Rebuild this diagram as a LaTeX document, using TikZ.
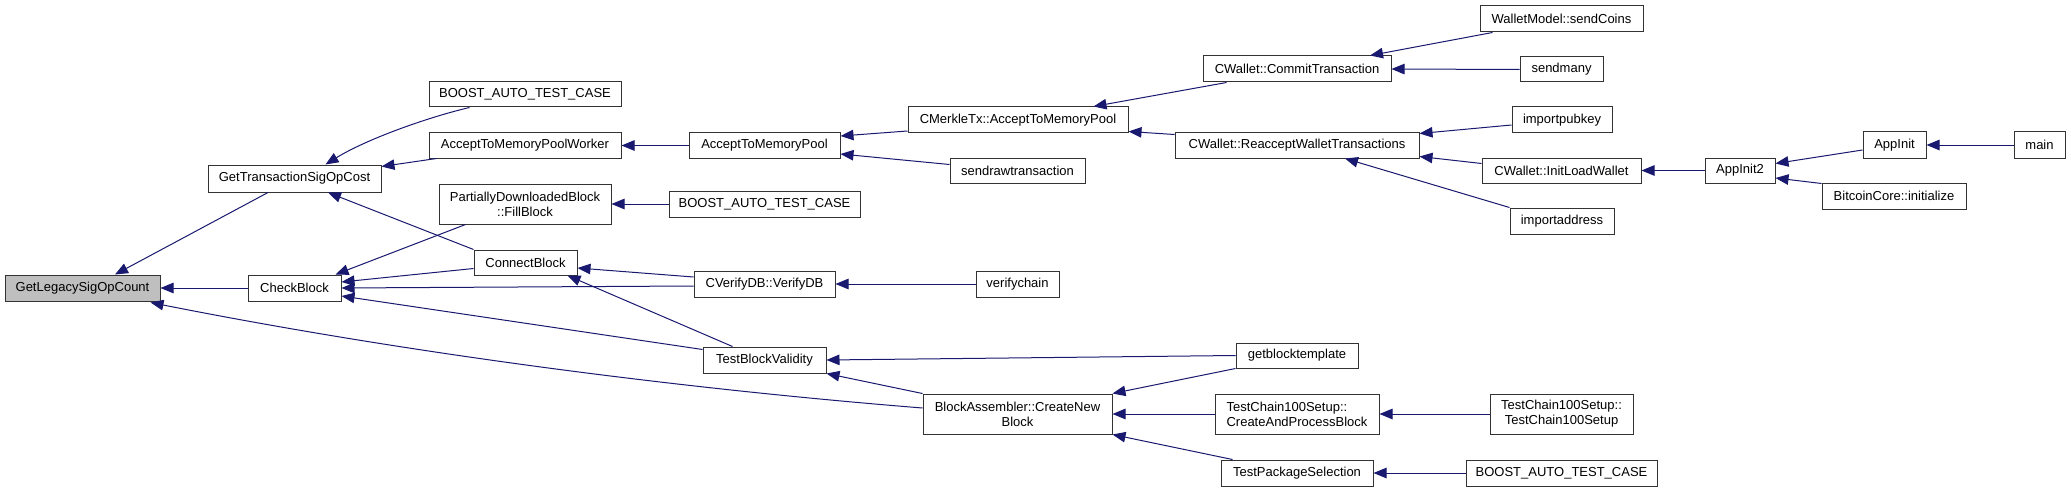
\documentclass[tikz,border=0pt]{standalone}
\usepackage{fontspec}
\setmainfont{Liberation Sans}
\usetikzlibrary{arrows.meta}
\definecolor{edgeblue}{HTML}{191970}
\definecolor{boxline}{HTML}{333333}
\definecolor{hilite}{HTML}{BFBFBF}
\tikzset{
  fn/.style={draw=boxline, line width=1pt, fill=white, inner sep=0pt,
    font=\fontsize{13pt}{15pt}\selectfont, align=center, minimum height=26pt},
  two/.style={minimum height=40pt},
  edge/.style={draw=edgeblue, line width=1pt, -{Triangle[length=13pt,width=10.5pt]}}
}
\begin{document}
\begin{tikzpicture}[x=1pt,y=-1pt]
\useasboundingbox[fill=white] (0,0) rectangle (2071,492);
% nodes
\node[fn, fill=hilite, minimum width=155pt] (gl) at (82.5,288) {GetLegacySigOpCount};
\node[fn, minimum width=173pt, minimum height=27pt] (gt) at (294.5,178.5) {GetTransactionSigOpCost};
\node[fn, minimum width=93pt] (cb) at (294.5,288) {CheckBlock};
\node[fn, minimum width=192pt, minimum height=25pt] (bt1) at (525,94.5) {BOOST\_AUTO\_TEST\_CASE};
\node[fn, minimum width=192pt, minimum height=25pt] (atw) at (525,145.5) {AcceptToMemoryPoolWorker};
\node[fn, two, minimum width=172pt] (pdb) at (525,204) {PartiallyDownloadedBlock\\::FillBlock};
\node[fn, minimum width=103pt, minimum height=25pt] (cnb) at (525.5,262.5) {ConnectBlock};
\node[fn, minimum width=191pt] (bt2) at (764.5,204) {BOOST\_AUTO\_TEST\_CASE};
\node[fn, minimum width=151pt, minimum height=25pt] (atm) at (764.5,145.5) {AcceptToMemoryPool};
\node[fn, minimum width=141pt] (vdb) at (764.5,284) {CVerifyDB::VerifyDB};
\node[fn, minimum width=123pt] (tbv) at (764.5,360) {TestBlockValidity};
\node[fn, two, minimum width=189pt] (ba) at (1017.5,414) {BlockAssembler::CreateNew\\Block};
\node[fn, minimum width=220pt] (cm) at (1018,120) {CMerkleTx::AcceptToMemoryPool};
\node[fn, minimum width=135pt, minimum height=25pt] (srt) at (1017.5,170.5) {sendrawtransaction};
\node[fn, minimum width=83pt] (vc) at (1017.5,284) {verifychain};
\node[fn, minimum width=188pt] (ct) at (1297,69) {CWallet::CommitTransaction};
\node[fn, minimum width=244pt, minimum height=25pt] (rw) at (1297,145.5) {CWallet::ReacceptWalletTransactions};
\node[fn, minimum width=122pt, minimum height=25pt] (gbt) at (1297,355.5) {getblocktemplate};
\node[fn, two, minimum width=164pt, align=left] (cap) at (1297,414) {TestChain100Setup::\\CreateAndProcessBlock};
\node[fn, minimum width=152pt] (tps) at (1297,473) {TestPackageSelection};
\node[fn, minimum width=163pt] (wm) at (1561.5,19) {WalletModel::sendCoins};
\node[fn, minimum width=83pt, minimum height=25pt] (sm) at (1561.5,69.5) {sendmany};
\node[fn, minimum width=100pt] (ipk) at (1562,120) {importpubkey};
\node[fn, minimum width=159pt, minimum height=25pt] (ilw) at (1561.5,170.5) {CWallet::InitLoadWallet};
\node[fn, minimum width=104pt] (ia) at (1562,221) {importaddress};
\node[fn, two, minimum width=143pt] (tcs) at (1561.5,414) {TestChain100Setup::\\TestChain100Setup};
\node[fn, minimum width=191pt] (bt3) at (1561.5,473) {BOOST\_AUTO\_TEST\_CASE};
\node[fn, minimum width=70pt, minimum height=25pt] (ai2) at (1740,170.5) {AppInit2};
\node[fn, minimum width=63pt] (ai) at (1894.5,145) {AppInit};
\node[fn, minimum width=144pt] (bci) at (1894,196) {BitcoinCore::initialize};
\node[fn, minimum width=51pt] (mn) at (2039.5,145) {main};
% edges (caller -> callee)
\draw[edge] ([shift={(-26.5,0)}]gt.south) -- ([shift={(32.5,0)}]gl.north);
\draw[edge] (cb.west) -- (gl.east);
\draw[edge] ([shift={(0,-6)}]ba.west) .. controls (673,388) and (400,352) .. ([shift={(-10,1)}]gl.south east);
\draw[edge] ([shift={(41,0)}]bt1.south west) .. controls (425,118) and (365,140) .. ([shift={(31,0)}]gt.north);
\draw[edge] ([shift={(8,0)}]atw.south west) -- ([shift={(0,2)}]gt.north east);
\draw[edge] (cnb.north west) -- ([shift={(33.5,0)}]gt.south);
\draw[edge] ([shift={(27,0)}]pdb.south west) -- ([shift={(-6,0)}]cb.north east);
\draw[edge] ([shift={(0,6)}]cnb.west) -- ([shift={(0,-6)}]cb.east);
\draw[edge] ([shift={(0,2)}]vdb.west) -- (cb.east);
\draw[edge] ([shift={(0,3)}]tbv.north west) -- ([shift={(0,8)}]cb.east);
\draw[edge] (bt2.west) -- (pdb.east);
\draw[edge] (atm.west) -- (atw.east);
\draw[edge] ([shift={(0,-7)}]vdb.west) -- ([shift={(0,5.5)}]cnb.east);
\draw[edge] ([shift={(-32,0)}]tbv.north) -- ([shift={(-10,0)}]cnb.south east);
\draw[edge] ([shift={(0,11)}]cm.west) -- ([shift={(0,-9.5)}]atm.east);
\draw[edge] ([shift={(0,-6)}]srt.west) -- ([shift={(0,8.5)}]atm.east);
\draw[edge] (vc.west) -- (vdb.east);
\draw[edge] (gbt.west) -- (tbv.east);
\draw[edge] (ba.north west) -- (tbv.south east);
\draw[edge] ([shift={(24,0)}]ct.south west) -- ([shift={(-35,0)}]cm.north east);
\draw[edge] ([shift={(0,2)}]rw.north west) -- ([shift={(0,-2)}]cm.south east);
\draw[edge] (gbt.south west) -- (ba.north east);
\draw[edge] (cap.west) -- (ba.east);
\draw[edge] ([shift={(12,0)}]tps.north west) -- (ba.south east);
\draw[edge] ([shift={(13,0)}]wm.south west) -- ([shift={(73,0)}]ct.north);
\draw[edge] (sm.west) -- (ct.east);
\draw[edge] ([shift={(0,5)}]ipk.west) -- ([shift={(0,1)}]rw.north east);
\draw[edge] ([shift={(0,-7)}]ilw.west) -- ([shift={(0,-2)}]rw.south east);
\draw[edge] (ia.north west) -- ([shift={(48,0)}]rw.south);
\draw[edge] (ai2.west) -- (ilw.east);
\draw[edge] ([shift={(0,5)}]ai.west) -- ([shift={(0,-7)}]ai2.east);
\draw[edge] ([shift={(0,1)}]bci.north west) -- ([shift={(0,7.5)}]ai2.east);
\draw[edge] (mn.west) -- (ai.east);
\draw[edge] (tcs.west) -- (cap.east);
\draw[edge] (bt3.west) -- (tps.east);
\end{tikzpicture}
\end{document}
